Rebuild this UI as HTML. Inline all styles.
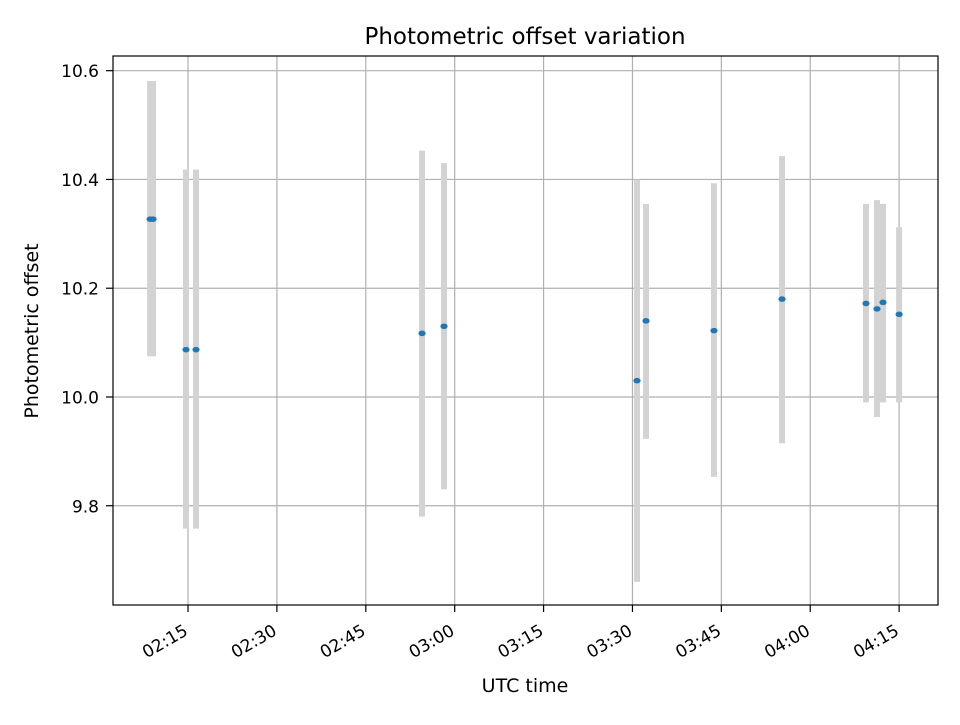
<!DOCTYPE html>
<html><head><meta charset="utf-8"><style>
body{margin:0;background:#fff}
svg text{font-family:"DejaVu Sans","Liberation Sans",sans-serif;fill:#000}
</style></head><body>
<svg id="chart" width="960" height="720" xmlns="http://www.w3.org/2000/svg">
<rect width="960" height="720" fill="#fff"/>
<g id="grid"></g>
<g id="bars"></g>
<g id="pts"></g>
<g id="ticks"></g>
<rect x="113" y="56" width="825" height="549" fill="none" stroke="#000" stroke-width="1.2"/>
<text x="525" y="44" font-size="23" text-anchor="middle">Photometric offset variation</text>
<text x="525" y="692" font-size="19" text-anchor="middle">UTC time</text>
<text x="38" y="331" font-size="19" text-anchor="middle" transform="rotate(-90 38 331)">Photometric offset</text>
</svg>
<script>
// times in minutes after 00:00 UTC
const times=[128.6,129.1,134.66,136.35,174.49,178.2,210.77,212.29,223.76,235.24,249.41,251.27,252.28,255.0];
const values=[10.327,10.327,10.087,10.087,10.117,10.13,10.03,10.14,10.122,10.18,10.172,10.162,10.174,10.152];
const lows=[10.075,10.075,9.758,9.758,9.78,9.83,9.66,9.923,9.853,9.915,9.99,9.963,9.99,9.99];
const highs=[10.581,10.581,10.418,10.418,10.453,10.43,10.40,10.355,10.393,10.443,10.355,10.362,10.355,10.312];
const xTickLabels=["02:15","02:30","02:45","03:00","03:15","03:30","03:45","04:00","04:15"];
const xTickValues=[135,150,165,180,195,210,225,240,255];
const yTickValues=[9.8,10.0,10.2,10.4,10.6];
const yTickLabels=["9.8","10.0","10.2","10.4","10.6"];

const X0=113,X1=938,Y0=56,Y1=605;
const xMin=122.34,xMax=261.56,yMin=9.6175,yMax=10.627;
const xs=v=>X0+(v-xMin)/(xMax-xMin)*(X1-X0);
const ys=v=>Y1-(v-yMin)/(yMax-yMin)*(Y1-Y0);
const NS="http://www.w3.org/2000/svg";
function mk(tag,parent,attrs){const e=document.createElementNS(NS,tag);for(const k in attrs)e.setAttribute(k,attrs[k]);document.getElementById(parent).appendChild(e);return e;}

xTickValues.forEach((t,i)=>{
  const x=xs(t);
  const g=mk('line','grid',{x1:x,x2:x,y1:Y0,y2:Y1,stroke:'#b0b0b0','stroke-width':1.2});
  
  
  const tk=mk('line','ticks',{x1:x,x2:x,y1:Y1,y2:Y1+7,stroke:'#000','stroke-width':1.2});
  
  
  const px=x+1,py=Y1+29;
  const tx=mk('text','ticks',{x:px,y:py,'font-size':17,'text-anchor':'end',transform:`rotate(-30 ${px} ${py})`});
  tx.textContent=xTickLabels[i];
  
  
});
yTickValues.forEach((t,i)=>{
  const y=ys(t);
  const g=mk('line','grid',{x1:X0,x2:X1,y1:y,y2:y,stroke:'#b0b0b0','stroke-width':1.2});
  
  
  const tk=mk('line','ticks',{x1:X0-7,x2:X0,y1:y,y2:y,stroke:'#000','stroke-width':1.2});
  
  
  const tx=mk('text','ticks',{x:X0-14,y:y+6.5,'font-size':17,'text-anchor':'end'});
  tx.textContent=yTickLabels[i];
  
  
});
times.forEach((t,i)=>{
  const x=xs(t);
  const b=mk('line','bars',{x1:x,x2:x,y1:ys(lows[i]),y2:ys(highs[i]),stroke:'#d3d3d3','stroke-width':6});
  
  
  const p=mk('ellipse','pts',{cx:x,cy:ys(values[i]),rx:3.6,ry:2.8,fill:'#1f77b4'});
  
  
});
</script>
</body></html>
